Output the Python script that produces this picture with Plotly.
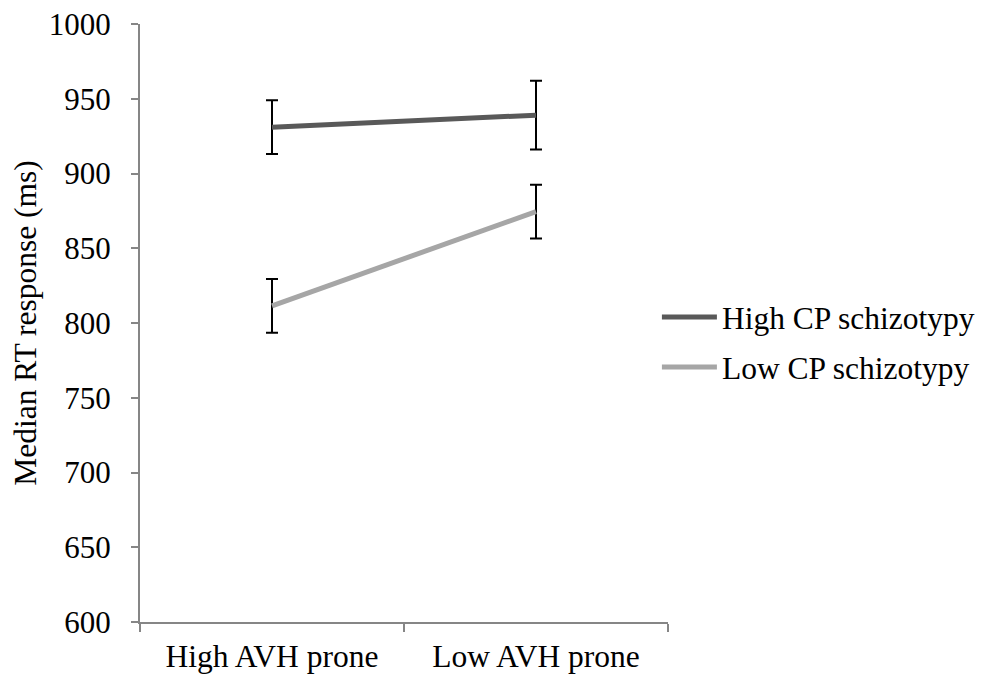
import plotly.graph_objects as go

categories = ["High AVH prone", "Low AVH prone"]
high_cp = [931, 939]
high_cp_err = [18, 23]
low_cp = [811.5, 874.5]
low_cp_err = [18, 18]
series_names = ["High CP schizotypy", "Low CP schizotypy"]
y_ticks = [600, 650, 700, 750, 800, 850, 900, 950, 1000]

font = "Liberation Serif, Times New Roman, serif"

fig = go.Figure()
fig.add_trace(go.Scatter(
    x=categories, y=high_cp, name=series_names[0], mode="lines", legendgroup="a",
    line=dict(color="#595959", width=5),
    error_y=dict(type="data", array=high_cp_err, visible=True, color="black", thickness=2, width=6),
))
fig.add_trace(go.Scatter(
    x=categories, y=low_cp, name=series_names[1], mode="lines", legendgroup="b",
    line=dict(color="#a6a6a6", width=5),
    error_y=dict(type="data", array=low_cp_err, visible=True, color="black", thickness=2, width=6),
))

fig.update_layout(
    width=977, height=669,
    margin=dict(l=132, r=317, t=16, b=55, autoexpand=False),
    plot_bgcolor="white", paper_bgcolor="white",
    font=dict(family=font, size=31, color="black"),
    showlegend=True,
    legend=dict(x=0.979, y=0.468, xanchor="left", yanchor="middle",
                font=dict(family=font, size=31.5, color="black"),
                tracegroupgap=6, itemwidth=55, bgcolor="rgba(0,0,0,0)"),
)
fig.update_xaxes(
    type="category", range=[-0.5, 1.5], tickson="boundaries", automargin=False,
    showline=True, linecolor="#868686", linewidth=2,
    ticks="outside", ticklen=8, tickcolor="#868686", tickwidth=2,
    showgrid=False, zeroline=False, ticklabelstandoff=5,
    tickfont=dict(family=font, size=31.5, color="black"),
)
fig.update_yaxes(
    range=[600, 1000], tickvals=y_ticks, ticklabeloverflow="allow", automargin=False,
    showline=True, linecolor="#868686", linewidth=2,
    ticks="outside", ticklen=7, tickcolor="#868686", tickwidth=2,
    showgrid=False, zeroline=False, ticklabelstandoff=14,
    title=dict(text="Median RT response (ms)", font=dict(family=font, size=31.5, color="black"), standoff=8),
    tickfont=dict(family=font, size=31, color="black"),
)

fig.write_html("out.html")
